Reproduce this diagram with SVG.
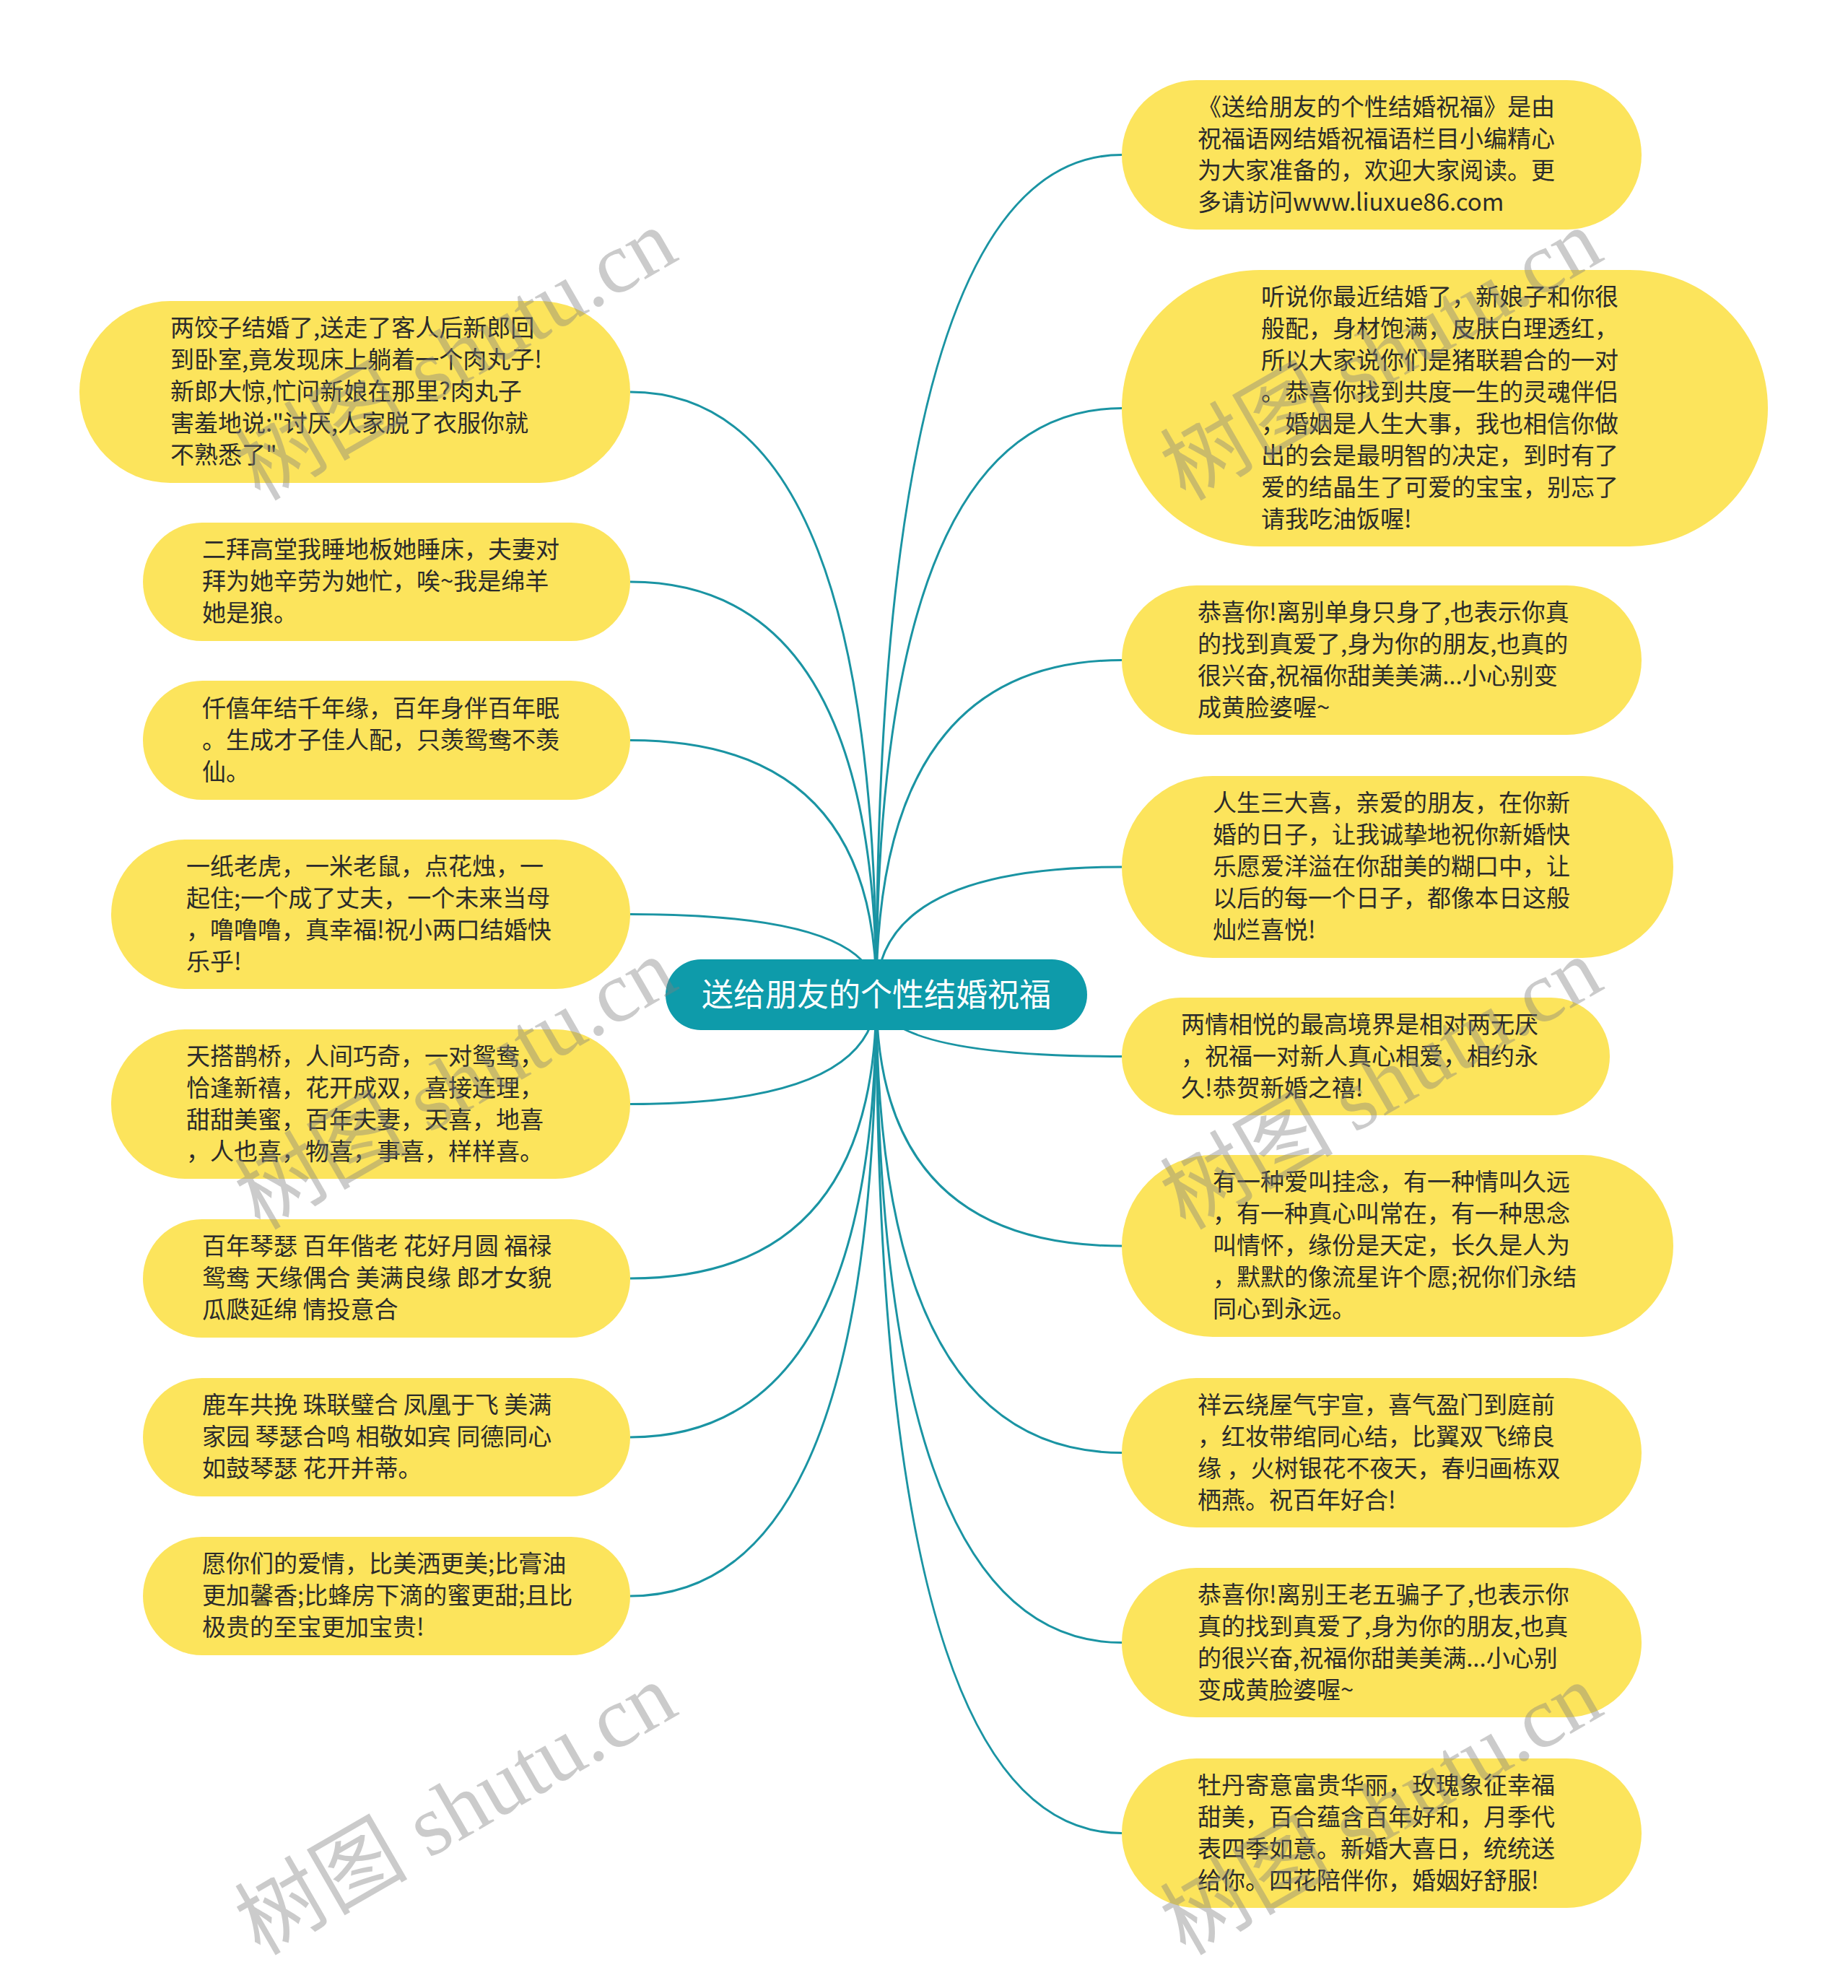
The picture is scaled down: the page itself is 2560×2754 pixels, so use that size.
<svg xmlns="http://www.w3.org/2000/svg" width="2560" height="2754" viewBox="0 0 2560 2754">
<style>
.bg{fill:#ffffff}
.node rect{fill:#FCE45C}
.t{font-family:"Noto Sans CJK SC","Noto Sans",sans-serif;font-size:33px;fill:#2b2b2b;transform:translate(0px,-3px)}
.root rect{fill:#0E9BAA}
.rt{font-family:"Noto Sans CJK SC","Noto Sans",sans-serif;font-size:44px;fill:#ffffff}
.conn path{fill:none;stroke:#1A94A3;stroke-width:3}
.wm{font-family:"Liberation Serif","Noto Sans CJK SC",serif;font-size:120px;fill:#808080;opacity:0.4}
</style>
<rect class="bg" x="0" y="0" width="2560" height="2754"/>
<g id="connectors" class="conn">
<path d="M1214 1378 Q1214 214.5 1554 214.5"/>
<path d="M1214 1378 Q1214 565.5 1554 565.5"/>
<path d="M1214 1378 Q1214 914.5 1554 914.5"/>
<path d="M1214 1378 Q1214 1201 1554 1201"/>
<path d="M1214 1378 Q1214 1463.5 1554 1463.5"/>
<path d="M1214 1378 Q1214 1726 1554 1726"/>
<path d="M1214 1378 Q1214 2012.5 1554 2012.5"/>
<path d="M1214 1378 Q1214 2275.5 1554 2275.5"/>
<path d="M1214 1378 Q1214 2539.5 1554 2539.5"/>
<path d="M1214 1378 Q1214 543 873 543"/>
<path d="M1214 1378 Q1214 806 873 806"/>
<path d="M1214 1378 Q1214 1025.5 873 1025.5"/>
<path d="M1214 1378 Q1214 1266.5 873 1266.5"/>
<path d="M1214 1378 Q1214 1529.5 873 1529.5"/>
<path d="M1214 1378 Q1214 1771 873 1771"/>
<path d="M1214 1378 Q1214 1991 873 1991"/>
<path d="M1214 1378 Q1214 2211 873 2211"/>
</g>
<g id="root" class="root">
<rect x="922" y="1329" width="584" height="98" rx="49"/>
<text class="rt" x="1214" y="1394" text-anchor="middle">送给朋友的个性结婚祝福</text>
</g>
<g id="R1" class="node">
<rect x="1554" y="111" width="720" height="207" rx="103.5"/>
<text class="t"><tspan x="1659" y="162.5">《送给朋友的个性结婚祝福》是由</tspan><tspan x="1659" y="206.5">祝福语网结婚祝福语栏目小编精心</tspan><tspan x="1659" y="250.5">为大家准备的，欢迎大家阅读。更</tspan><tspan x="1659" y="294.5">多请访问www.liuxue86.com</tspan></text>
</g>
<g id="R2" class="node">
<rect x="1554" y="374" width="895" height="383" rx="191.5"/>
<text class="t"><tspan x="1747" y="425.5">听说你最近结婚了，新娘子和你很</tspan><tspan x="1747" y="469.5">般配，身材饱满，皮肤白理透红，</tspan><tspan x="1747" y="513.5">所以大家说你们是猪联碧合的一对</tspan><tspan x="1747" y="557.5">。恭喜你找到共度一生的灵魂伴侣</tspan><tspan x="1747" y="601.5">，婚姻是人生大事，我也相信你做</tspan><tspan x="1747" y="645.5">出的会是最明智的决定，到时有了</tspan><tspan x="1747" y="689.5">爱的结晶生了可爱的宝宝，别忘了</tspan><tspan x="1747" y="733.5">请我吃油饭喔!</tspan></text>
</g>
<g id="R3" class="node">
<rect x="1554" y="811" width="720" height="207" rx="103.5"/>
<text class="t"><tspan x="1659" y="862.5">恭喜你!离别单身只身了,也表示你真</tspan><tspan x="1659" y="906.5">的找到真爱了,身为你的朋友,也真的</tspan><tspan x="1659" y="950.5">很兴奋,祝福你甜美美满...小心别变</tspan><tspan x="1659" y="994.5">成黄脸婆喔~</tspan></text>
</g>
<g id="R4" class="node">
<rect x="1554" y="1075" width="764" height="252" rx="126"/>
<text class="t"><tspan x="1680" y="1127">人生三大喜，亲爱的朋友，在你新</tspan><tspan x="1680" y="1171">婚的日子，让我诚挚地祝你新婚快</tspan><tspan x="1680" y="1215">乐愿爱洋溢在你甜美的糊口中，让</tspan><tspan x="1680" y="1259">以后的每一个日子，都像本日这般</tspan><tspan x="1680" y="1303">灿烂喜悦!</tspan></text>
</g>
<g id="R5" class="node">
<rect x="1554" y="1382" width="676" height="163" rx="81.5"/>
<text class="t"><tspan x="1636" y="1433.5">两情相悦的最高境界是相对两无厌</tspan><tspan x="1636" y="1477.5">，祝福一对新人真心相爱，相约永</tspan><tspan x="1636" y="1521.5">久!恭贺新婚之禧!</tspan></text>
</g>
<g id="R6" class="node">
<rect x="1554" y="1600" width="764" height="252" rx="126"/>
<text class="t"><tspan x="1680" y="1652">有一种爱叫挂念，有一种情叫久远</tspan><tspan x="1680" y="1696">，有一种真心叫常在，有一种思念</tspan><tspan x="1680" y="1740">叫情怀，缘份是天定，长久是人为</tspan><tspan x="1680" y="1784">，默默的像流星许个愿;祝你们永结</tspan><tspan x="1680" y="1828">同心到永远。</tspan></text>
</g>
<g id="R7" class="node">
<rect x="1554" y="1909" width="720" height="207" rx="103.5"/>
<text class="t"><tspan x="1659" y="1960.5">祥云绕屋气宇宣，喜气盈门到庭前</tspan><tspan x="1659" y="2004.5">，红妆带绾同心结，比翼双飞缔良</tspan><tspan x="1659" y="2048.5">缘 ，火树银花不夜天，春归画栋双</tspan><tspan x="1659" y="2092.5">栖燕。祝百年好合!</tspan></text>
</g>
<g id="R8" class="node">
<rect x="1554" y="2172" width="720" height="207" rx="103.5"/>
<text class="t"><tspan x="1659" y="2223.5">恭喜你!离别王老五骗子了,也表示你</tspan><tspan x="1659" y="2267.5">真的找到真爱了,身为你的朋友,也真</tspan><tspan x="1659" y="2311.5">的很兴奋,祝福你甜美美满...小心别</tspan><tspan x="1659" y="2355.5">变成黄脸婆喔~</tspan></text>
</g>
<g id="R9" class="node">
<rect x="1554" y="2436" width="720" height="207" rx="103.5"/>
<text class="t"><tspan x="1659" y="2487.5">牡丹寄意富贵华丽，玫瑰象征幸福</tspan><tspan x="1659" y="2531.5">甜美，百合蕴含百年好和，月季代</tspan><tspan x="1659" y="2575.5">表四季如意。新婚大喜日，统统送</tspan><tspan x="1659" y="2619.5">给你。四花陪伴你，婚姻好舒服!</tspan></text>
</g>
<g id="L1" class="node">
<rect x="110" y="417" width="763" height="252" rx="126"/>
<text class="t"><tspan x="236" y="469">两饺子结婚了,送走了客人后新郎回</tspan><tspan x="236" y="513">到卧室,竟发现床上躺着一个肉丸子!</tspan><tspan x="236" y="557">新郎大惊,忙问新娘在那里?肉丸子</tspan><tspan x="236" y="601">害羞地说:"讨厌,人家脱了衣服你就</tspan><tspan x="236" y="645">不熟悉了"</tspan></text>
</g>
<g id="L2" class="node">
<rect x="198" y="724" width="675" height="164" rx="82"/>
<text class="t"><tspan x="280" y="776">二拜高堂我睡地板她睡床，夫妻对</tspan><tspan x="280" y="820">拜为她辛劳为她忙，唉~我是绵羊</tspan><tspan x="280" y="864">她是狼。</tspan></text>
</g>
<g id="L3" class="node">
<rect x="198" y="943" width="675" height="165" rx="82.5"/>
<text class="t"><tspan x="280" y="995.5">仟僖年结千年缘，百年身伴百年眠</tspan><tspan x="280" y="1039.5">。生成才子佳人配，只羡鸳鸯不羡</tspan><tspan x="280" y="1083.5">仙。</tspan></text>
</g>
<g id="L4" class="node">
<rect x="154" y="1163" width="719" height="207" rx="103.5"/>
<text class="t"><tspan x="258" y="1214.5">一纸老虎，一米老鼠，点花烛，一</tspan><tspan x="258" y="1258.5">起住;一个成了丈夫，一个未来当母</tspan><tspan x="258" y="1302.5">，噜噜噜，真幸福!祝小两口结婚快</tspan><tspan x="258" y="1346.5">乐乎!</tspan></text>
</g>
<g id="L5" class="node">
<rect x="154" y="1426" width="719" height="207" rx="103.5"/>
<text class="t"><tspan x="258" y="1477.5">天搭鹊桥，人间巧奇，一对鸳鸯，</tspan><tspan x="258" y="1521.5">恰逢新禧，花开成双，喜接连理，</tspan><tspan x="258" y="1565.5">甜甜美蜜，百年夫妻，天喜，地喜</tspan><tspan x="258" y="1609.5">，人也喜，物喜，事喜，样样喜。</tspan></text>
</g>
<g id="L6" class="node">
<rect x="198" y="1689" width="675" height="164" rx="82"/>
<text class="t"><tspan x="280" y="1741">百年琴瑟 百年偕老 花好月圆 福禄</tspan><tspan x="280" y="1785">鸳鸯 天缘偶合 美满良缘 郎才女貌</tspan><tspan x="280" y="1829">瓜瓞延绵 情投意合</tspan></text>
</g>
<g id="L7" class="node">
<rect x="198" y="1909" width="675" height="164" rx="82"/>
<text class="t"><tspan x="280" y="1961">鹿车共挽 珠联璧合 凤凰于飞 美满</tspan><tspan x="280" y="2005">家园 琴瑟合鸣 相敬如宾 同德同心</tspan><tspan x="280" y="2049">如鼓琴瑟 花开并蒂。</tspan></text>
</g>
<g id="L8" class="node">
<rect x="198" y="2129" width="675" height="164" rx="82"/>
<text class="t"><tspan x="280" y="2181">愿你们的爱情，比美洒更美;比膏油</tspan><tspan x="280" y="2225">更加馨香;比蜂房下滴的蜜更甜;且比</tspan><tspan x="280" y="2269">极贵的至宝更加宝贵!</tspan></text>
</g>
<g id="watermarks">
<text class="wm" transform="translate(360,695) rotate(-30)">树图 shutu.cn</text>
<text class="wm" transform="translate(360,1705) rotate(-30)">树图 shutu.cn</text>
<text class="wm" transform="translate(360,2710) rotate(-30)">树图 shutu.cn</text>
<text class="wm" transform="translate(1642,695) rotate(-30)">树图 shutu.cn</text>
<text class="wm" transform="translate(1642,1705) rotate(-30)">树图 shutu.cn</text>
<text class="wm" transform="translate(1642,2710) rotate(-30)">树图 shutu.cn</text>
</g>
</svg>
